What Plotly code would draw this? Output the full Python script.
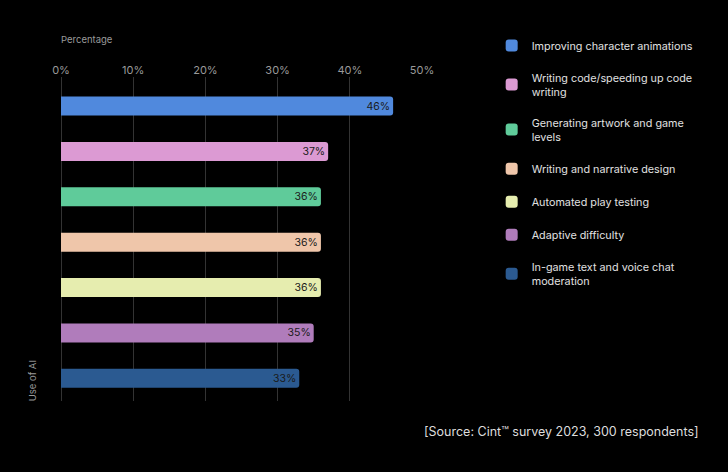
import plotly.graph_objects as go

categories = [
    "Improving character animations",
    "Writing code/speeding up code<br>writing",
    "Generating artwork and game<br>levels",
    "Writing and narrative design",
    "Automated play testing",
    "Adaptive difficulty",
    "In-game text and voice chat<br>moderation",
]
values = [46, 37, 36, 36, 36, 35, 33]
colors = ["#5089DD", "#DC9AD3", "#5FCB9A", "#EFC6AA", "#E6EDAF", "#B07CBB", "#2B5A91"]
x_ticks = [0, 10, 20, 30, 40, 50]
x_tick_labels = ["0%", "10%", "20%", "30%", "40%", "50%"]

fig = go.Figure()
for i, (c, v, col) in enumerate(zip(categories, values, colors)):
    fig.add_trace(go.Bar(
        x=[v], y=[i], orientation="h", name=c,
        marker=dict(color=col, line=dict(width=0), cornerradius=3),
        width=0.42,
        text=[f"{v}%"], textposition="inside", insidetextanchor="end",
        textfont=dict(color="#1a1a1a", size=10.5, family="Inter"),
        legendgroup=str(i),
        hoverinfo="skip",
    ))

fig.update_layout(
    width=728, height=472,
    paper_bgcolor="#000000", plot_bgcolor="#000000",
    margin=dict(l=61, r=306, t=77, b=71),
    barmode="overlay",
    font=dict(family="Inter", color="#dddddd"),
    showlegend=True,
    legend=dict(
        x=1.193, xanchor="left", y=1.142, yanchor="top",
        font=dict(size=10.8, color="#e0e0e0", family="Inter"),
        tracegroupgap=14, itemwidth=30, maxheight=1,
        bgcolor="rgba(0,0,0,0)",
    ),
    xaxis=dict(
        side="top", range=[0, 50], tickvals=x_ticks, ticktext=x_tick_labels,
        showgrid=True, gridcolor="#333333", gridwidth=1,
        zeroline=True, zerolinecolor="#333333", zerolinewidth=1,
        showline=False, ticks="",
        tickfont=dict(size=11, color="#9a9a9a", family="Inter"),
        fixedrange=True,
    ),
    yaxis=dict(
        range=[6.5, -0.64], showticklabels=False, showgrid=False,
        zeroline=False, showline=False, ticks="",
    ),
    annotations=[
        dict(text="Percentage", xref="paper", yref="paper", x=0, y=1.12,
             xanchor="left", yanchor="middle", showarrow=False, xshift=-2, yshift=-1,
             font=dict(size=9.5, color="#9a9a9a", family="Inter")),
        dict(text="Use of AI", xref="paper", yref="paper", x=-0.078, y=0,
             xanchor="center", yanchor="bottom", textangle=-90, showarrow=False,
             yshift=-2,
             font=dict(size=9.5, color="#9a9a9a", family="Inter")),
        dict(text="[Source: Cint\u2122 survey 2023, 300 respondents]", xref="paper", yref="paper",
             x=1.0 + (698 - 422) / 361, y=-(431 - 401) / 324,
             xanchor="right", yanchor="middle", showarrow=False, xshift=3,
             font=dict(size=12.5, color="#dddddd", family="Inter")),
    ],
)

fig.write_html(
    "out.html",
    config={"displayModeBar": False},
    post_script="document.body.style.margin='0';document.body.style.background='#000';",
)
